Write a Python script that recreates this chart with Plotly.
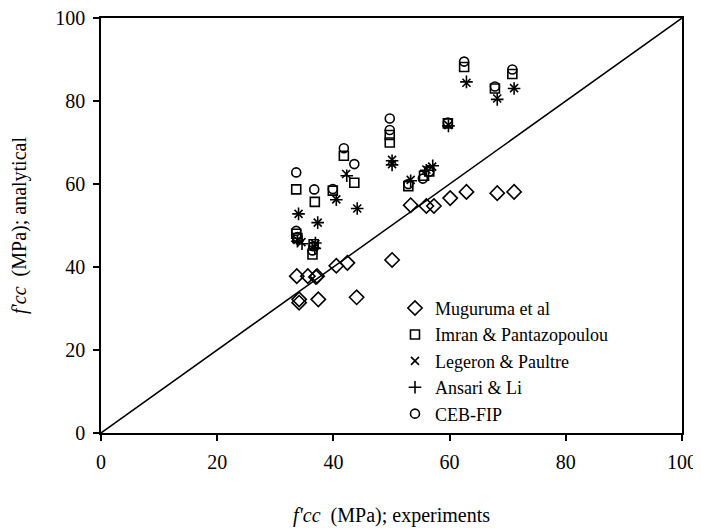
import plotly.graph_objects as go

# Muguruma et al (diamonds)
mug_x = [33.7, 34.1, 34.1, 35.6, 37.0, 37.2, 37.4, 40.5, 42.4, 44.0, 50.1, 53.3, 56.0, 57.3, 60.1, 62.9, 68.2, 71.1]
mug_y = [37.8, 32.2, 31.4, 37.8, 37.6, 37.8, 32.2, 40.3, 41.0, 32.7, 41.7, 54.9, 54.7, 54.7, 56.6, 58.1, 57.8, 58.1]

# Imran & Pantazopoulou (squares)
imr_x = [33.6, 33.6, 33.8, 36.8, 36.6, 36.4, 39.9, 41.8, 43.6, 49.7, 49.7, 52.9, 55.6, 56.5, 59.7, 62.5, 67.8, 70.8]
imr_y = [58.7, 48.0, 47.0, 55.7, 45.5, 43.0, 58.4, 66.8, 60.3, 71.8, 70.0, 59.5, 62.0, 63.0, 74.6, 88.2, 83.0, 86.5]

# Legeron & Paultre (x)
leg_x = [34.0, 33.8, 34.5, 36.9, 36.7, 37.3, 40.5, 42.2, 44.1, 50.1, 50.1, 53.3, 56.0, 57.0, 59.8, 62.9, 68.2, 71.1]
leg_y = [52.8, 46.5, 46.0, 45.5, 45.0, 50.7, 56.3, 62.4, 54.1, 65.8, 64.8, 61.0, 63.5, 64.2, 74.2, 84.4, 80.6, 83.1]

# Ansari & Li (+)
ans_x = [34.0, 33.8, 34.6, 36.9, 36.8, 37.3, 40.5, 42.3, 44.1, 50.1, 50.1, 53.3, 56.0, 57.1, 59.8, 62.9, 68.2, 71.1]
ans_y = [52.8, 46.2, 45.6, 45.8, 44.5, 50.7, 56.2, 62.0, 54.1, 65.6, 64.6, 60.8, 63.3, 64.4, 74.0, 84.6, 80.4, 83.0]

# CEB-FIP (circles)
ceb_x = [33.6, 33.6, 33.8, 36.7, 36.6, 36.4, 39.9, 41.8, 43.6, 49.7, 49.7, 52.9, 55.4, 56.5, 59.7, 62.5, 67.8, 70.8]
ceb_y = [62.8, 48.7, 47.2, 58.7, 45.0, 44.0, 58.8, 68.6, 64.8, 75.8, 73.0, 60.0, 61.3, 63.0, 74.8, 89.5, 83.5, 87.6]

line_x = [0, 100]
line_y = [0, 100]

font = "Liberation Serif"
fs = 20
fig = go.Figure()

fig.add_trace(go.Scatter(x=line_x, y=line_y, mode="lines", line=dict(color="black", width=1.5),
                         showlegend=False, hoverinfo="skip"))

series = [
    ("Muguruma et al", mug_x, mug_y, "diamond-open", 11),
    ("Imran & Pantazopoulou", imr_x, imr_y, "square-open", 9),
    ("Legeron & Paultre", leg_x, leg_y, "x-thin-open", 8),
    ("Ansari & Li", ans_x, ans_y, "cross-thin-open", 9),
    ("CEB-FIP", ceb_x, ceb_y, "circle-open", 9),
]
for name, xs, ys, sym, sz in series:
    fig.add_trace(go.Scatter(x=xs, y=ys, mode="markers", name=name,
                             marker=dict(symbol=sym, size=sz, color="black",
                                         line=dict(color="black", width=1.6))))

axis_common = dict(range=[0, 100], dtick=20, ticks="outside", ticklen=6, tickwidth=1.5,
                   tickcolor="black", showline=True, linecolor="black", linewidth=1.5,
                   mirror=True, showgrid=False, zeroline=False, automargin=False,
                   ticklabelstandoff=4, ticklabeloverflow="allow",
                   tickfont=dict(family=font, size=fs, color="black"))

fig.update_layout(
    width=693, height=523,
    margin=dict(l=93, r=19, t=10, b=98),
    plot_bgcolor="white", paper_bgcolor="white",
    font=dict(family=font, size=fs, color="black"),
    xaxis=dict(**axis_common,
               title=dict(text="<i>f'cc</i>  (MPa); experiments", standoff=36,
                          font=dict(family=font, size=fs, color="black"))),
    yaxis=dict(**axis_common,
               title=dict(text="<i>f'cc</i>  (MPa); analytical", standoff=30,
                          font=dict(family=font, size=fs, color="black"))),
    legend=dict(x=0.506, y=0.345, xanchor="left", yanchor="top",
                bgcolor="rgba(0,0,0,0)", font=dict(family=font, size=18, color="black"),
                itemsizing="trace"),
)

fig.write_html("out.html")
